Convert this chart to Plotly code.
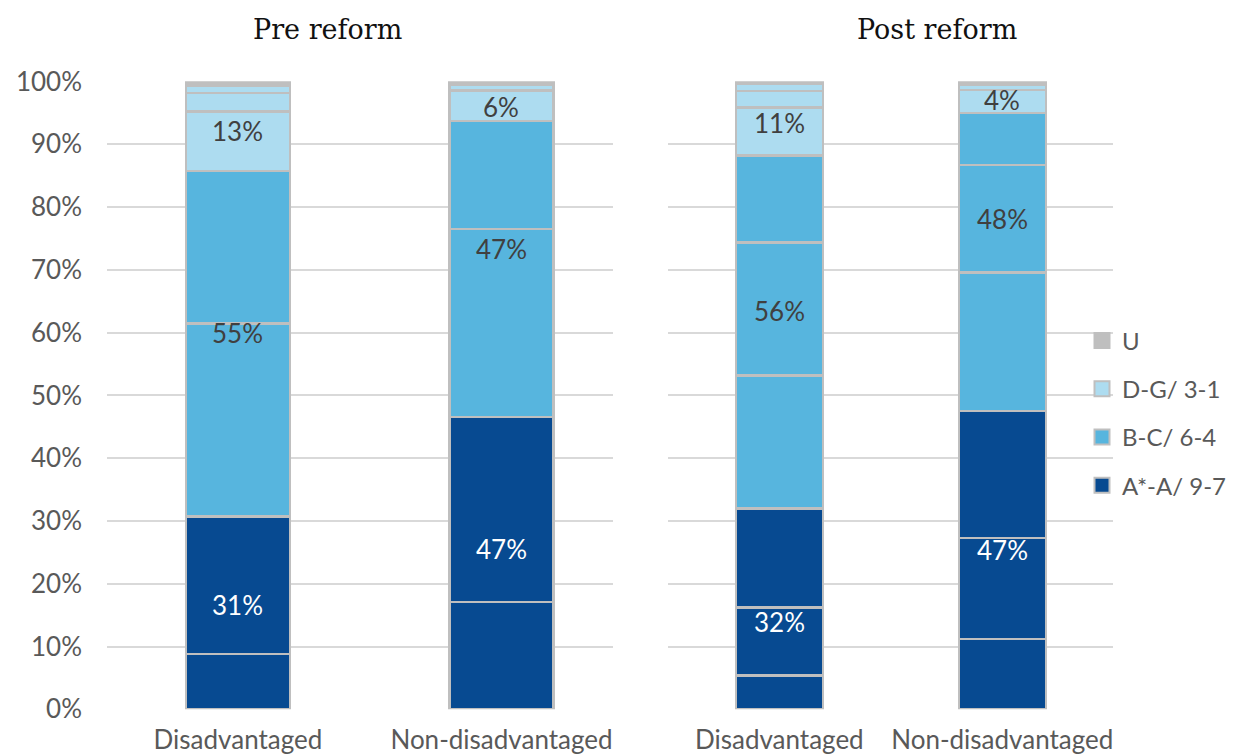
import plotly.graph_objects as go

# ---------------- data ----------------
categories = ["Disadvantaged", "Non-disadvantaged"]

pre_grades = ["A*", "A", "B", "C", "D", "E", "F", "G", "U"]
pre_groups = ["A*-A/ 9-7", "A*-A/ 9-7", "B-C/ 6-4", "B-C/ 6-4",
              "D-G/ 3-1", "D-G/ 3-1", "D-G/ 3-1", "D-G/ 3-1", "U"]
pre_disadv = [8.8, 21.9, 30.8, 24.3, 9.4, 3.0, 1.2, 0.3, 0.3]
pre_nondisadv = [17.1, 29.5, 29.9, 17.2, 4.9, 0.9, 0.15, 0.05, 0.3]

post_grades = ["9", "8", "7", "6", "5", "4", "3", "2", "1", "U"]
post_groups = ["A*-A/ 9-7", "A*-A/ 9-7", "A*-A/ 9-7", "B-C/ 6-4", "B-C/ 6-4", "B-C/ 6-4",
               "D-G/ 3-1", "D-G/ 3-1", "D-G/ 3-1", "U"]
post_disadv = [5.4, 10.8, 15.8, 21.2, 21.2, 13.8, 7.7, 2.6, 1.2, 0.3]
post_nondisadv = [11.2, 16.1, 20.2, 22.1, 17.1, 8.3, 3.7, 0.8, 0.3, 0.2]

legend_names = ["U", "D-G/ 3-1", "B-C/ 6-4", "A*-A/ 9-7"]   # legend order, top to bottom

# group label texts (per category: A*-A, B-C, D-G)
pre_label_text = [["31%", "55%", "13%"], ["47%", "47%", "6%"]]
post_label_text = [["32%", "56%", "11%"], ["47%", "48%", "4%"]]
# label positions (y, in %)
pre_label_pos = [[16.6, 60.0, 92.1], [25.5, 73.4, 95.9]]
post_label_pos = [[13.9, 63.5, 93.4], [25.4, 78.1, 97.0]]

panel_titles = ["Pre reform", "Post reform"]

# ---------------- styles ----------------
colors = {"A*-A/ 9-7": "#074A91", "B-C/ 6-4": "#57B5DE", "D-G/ 3-1": "#ADDCF0", "U": "#BFBFBF"}
label_colors = ["#FFFFFF", "#404040", "#404040"]
outline = "#BFBFBF"
grid = "#D9D9D9"
tick_col = "#595959"
FONT = "Lato"

W, H = 1235, 754
fig = go.Figure()

# legend-only entries (no data), in display order
for nm in legend_names:
    fig.add_trace(go.Scatter(
        x=[None], y=[None], name=nm, legendgroup=nm, showlegend=True, mode="markers",
        marker=dict(color=colors[nm], symbol="square", size=15,
                    line=dict(color=outline, width=2)),
        xaxis="x", yaxis="y", hoverinfo="skip"))


def add_panel(grades, groups, v_dis, v_non, xa, ya, width):
    for i, g in enumerate(grades):
        grp = groups[i]
        fig.add_trace(go.Bar(
            x=categories, y=[v_dis[i], v_non[i]], name=grp,
            legendgroup=grp, showlegend=False,
            marker=dict(color=colors[grp], line=dict(color=outline, width=2.5)),
            width=width, xaxis=xa, yaxis=ya,
            hovertemplate=g + ": %{y}%<extra></extra>",
        ))


add_panel(pre_grades, pre_groups, pre_disadv, pre_nondisadv, "x", "y", 0.395)
add_panel(post_grades, post_groups, post_disadv, post_nondisadv, "x2", "y2", 0.39)

annotations = []
for texts, poss, xr, yr in [(pre_label_text, pre_label_pos, "x", "y"),
                            (post_label_text, post_label_pos, "x2", "y2")]:
    for ci, cat in enumerate(categories):
        for k in range(3):
            annotations.append(dict(
                x=cat, y=poss[ci][k], xref=xr, yref=yr, text=texts[ci][k],
                showarrow=False, font=dict(family=FONT, size=26, color=label_colors[k]),
                xanchor="center", yanchor="middle"))

for t, xc in zip(panel_titles, [327.5 / W, 937 / W]):
    annotations.append(dict(
        x=xc, y=1 - 30 / H, xref="paper", yref="paper", text=t, showarrow=False,
        font=dict(family="DejaVu Serif", size=27, color="#111111"),
        xanchor="center", yanchor="middle"))

ydom = [1 - 709.3 / H, 1 - 81.3 / H]
axis_common = dict(showline=False, zeroline=False, ticks="", automargin=False,
                   tickfont=dict(family=FONT, size=26, color=tick_col))

fig.update_layout(
    width=W, height=H, autosize=False,
    margin=dict(l=0, r=0, t=0, b=0, pad=0),
    paper_bgcolor="white", plot_bgcolor="white",
    barmode="stack",
    font=dict(family=FONT, color=tick_col),
    xaxis=dict(domain=[107 / W, 612.7 / W], range=[-0.497, 1.422], anchor="y",
               type="category", showgrid=False, ticklabelstandoff=13, **axis_common),
    xaxis2=dict(domain=[668.3 / W, 1113.3 / W], range=[-0.498, 1.498], anchor="y2",
                type="category", showgrid=False, ticklabelstandoff=13, **axis_common),
    yaxis=dict(domain=ydom, range=[0, 100.05], dtick=10, ticksuffix="%",
               showgrid=True, gridcolor=grid, gridwidth=2, ticklabelstandoff=24,
               anchor="x", **axis_common),
    yaxis2=dict(domain=ydom, range=[0, 100.05], dtick=10, showticklabels=False,
                showgrid=True, gridcolor=grid, gridwidth=2, anchor="x2",
                **{k: v for k, v in axis_common.items() if k != "tickfont"}),
    legend=dict(x=1082 / W, y=1 - 413 / H, xanchor="left", yanchor="middle",
                traceorder="grouped", tracegroupgap=14,
                font=dict(family=FONT, size=24, color=tick_col),
                bgcolor="rgba(0,0,0,0)"),
    annotations=annotations,
)

fig.write_html("out.html", config={"displayModeBar": False},
               post_script="document.body.style.margin='0';document.body.style.overflow='hidden';")
